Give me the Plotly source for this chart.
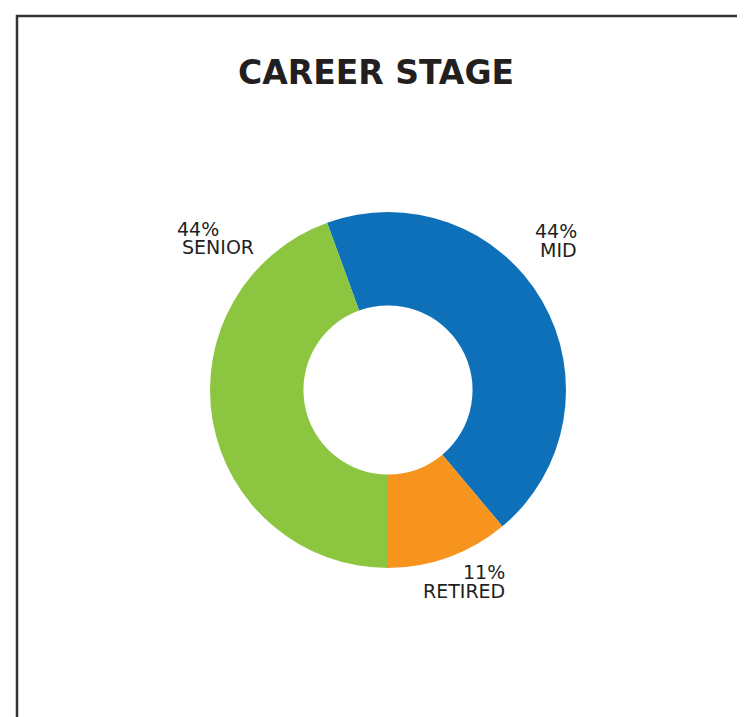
import plotly.graph_objects as go

title_text = "CAREER STAGE"
categories = ["MID", "RETIRED", "SENIOR"]
percent_values = [44, 11, 44]
colors = ["#0E70B8", "#F7941E", "#8CC640"]

W, H = 745, 717
OFF = 8  # page body margin offset

def px(x):
    return (x - OFF) / W

def py(y):
    return 1 - (y - OFF) / H

fig = go.Figure()
fig.add_trace(go.Pie(
    labels=categories,
    values=percent_values,
    marker=dict(colors=colors, line=dict(width=0)),
    hole=0.475,
    sort=False,
    direction="clockwise",
    rotation=-20,
    textinfo="none",
    hoverinfo="label+percent",
    showlegend=False,
    domain=dict(x=[px(210), px(566)], y=[py(568), py(212)]),
))

font_fam = "DejaVu Sans, Open Sans, sans-serif"
txt_color = "#231F20"

# label positions: (percent x, category x, percent-line y, category-line y, alignment)
label_pos = {
    "MID": (578, 578, 230, 249, "right"),
    "RETIRED": (506, 506, 571, 590, "right"),
    "SENIOR": (176, 181, 228, 247, "left"),
}
annotations = []
for cat, val in zip(categories, percent_values):
    x1, x2, y1, y2, al = label_pos[cat]
    for xx, yy, t in ((x1, y1, f"{val}%"), (x2, y2, cat)):
        annotations.append(dict(
            x=px(xx), y=py(yy), xref="paper", yref="paper",
            xanchor=al, yanchor="middle", align=al,
            text=t, showarrow=False, height=17, borderpad=0,
            font=dict(family=font_fam, size=19, color=txt_color),
        ))

annotations.append(dict(
    x=px(376), y=py(72), xref="paper", yref="paper",
    xanchor="center", yanchor="middle",
    text=f"<b>{title_text}</b>", showarrow=False,
    font=dict(family=font_fam, size=33, color=txt_color),
))

fig.update_layout(
    width=W, height=H,
    margin=dict(l=0, r=0, t=0, b=0),
    paper_bgcolor="white",
    plot_bgcolor="white",
    annotations=annotations,
    shapes=[dict(type="rect", xref="paper", yref="paper",
                 x0=px(17), x1=px(740), y0=-0.2, y1=py(16),
                 line=dict(color="#333333", width=2.5))],
)

fig.write_html("out.html")
